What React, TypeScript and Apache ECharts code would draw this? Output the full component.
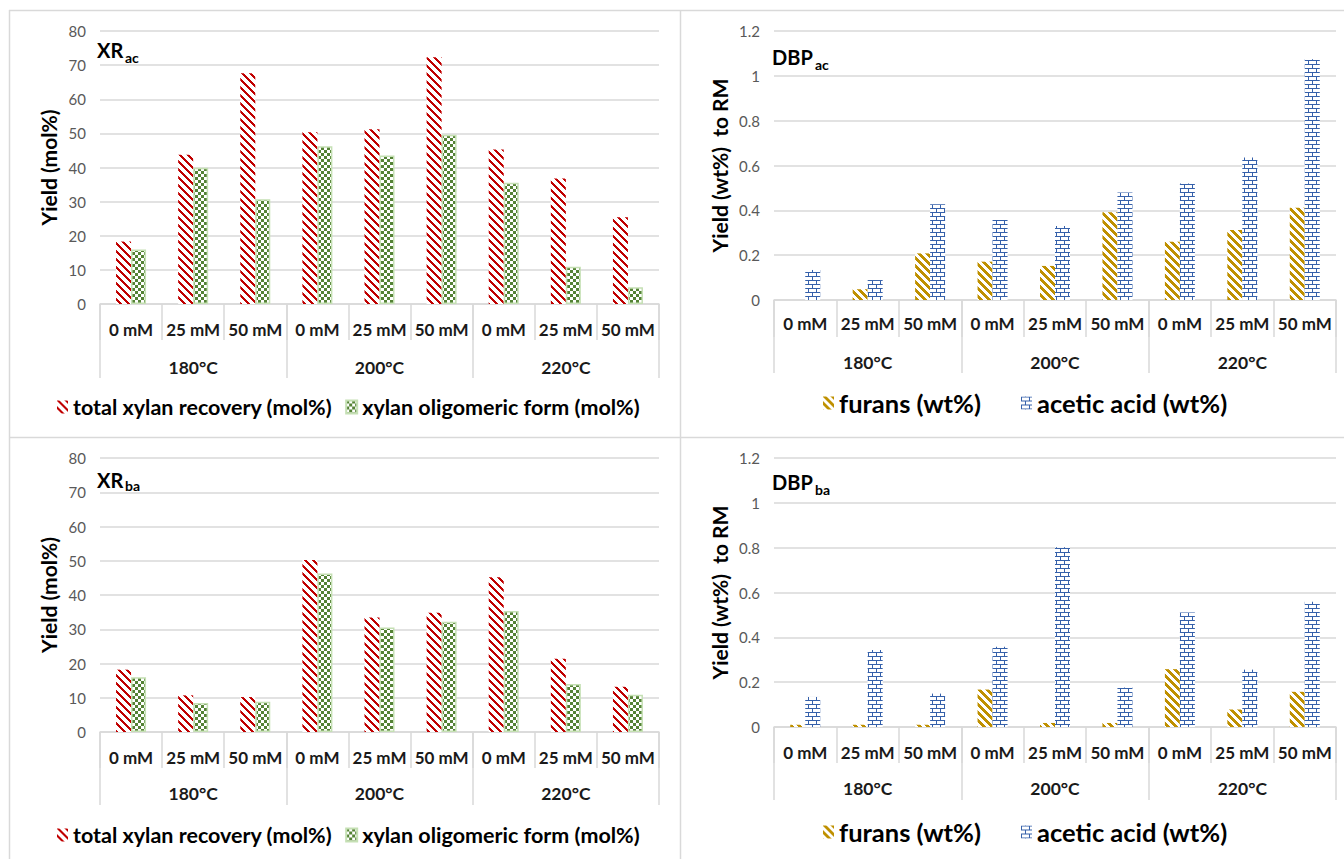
import React, { useEffect, useRef } from "react";
import * as echarts from "echarts";

// ---------- data ----------
const mmLabels = ["0 mM", "25 mM", "50 mM", "0 mM", "25 mM", "50 mM", "0 mM", "25 mM", "50 mM"];
const tempLabels = ["180°C", "200°C", "220°C"];

const xrAcTotal = [18.3, 43.7, 67.6, 50.3, 51.2, 72.3, 45.3, 36.8, 25.4];
const xrAcOligo = [16.0, 39.9, 30.7, 46.2, 43.5, 49.6, 35.5, 10.9, 4.9];
const xrBaTotal = [18.2, 10.7, 10.2, 50.2, 33.4, 34.8, 45.2, 21.4, 13.2];
const xrBaOligo = [16.0, 8.5, 8.8, 46.3, 30.5, 32.2, 35.3, 14.0, 10.9];

const dbpAcFurans = [0, 0.048, 0.208, 0.171, 0.152, 0.391, 0.26, 0.312, 0.412];
const dbpAcAcetic = [0.134, 0.089, 0.427, 0.357, 0.33, 0.48, 0.52, 0.636, 1.074];
const dbpBaFurans = [0.01, 0.01, 0.01, 0.167, 0.018, 0.018, 0.258, 0.078, 0.157];
const dbpBaAcetic = [0.134, 0.343, 0.149, 0.358, 0.802, 0.176, 0.511, 0.256, 0.559];

const nameTotal = "total xylan recovery (mol%)";
const nameOligo = "xylan oligomeric form (mol%)";
const nameFurans = "furans (wt%)";
const nameAcetic = "acetic acid (wt%)";

// ---------- styles ----------
const FONT = 'Lato, "Noto Sans", sans-serif';
const GRID_COLOR = "#d9d9d9";
const RED = "#c00000";
const GREEN = "#548235";
const GREEN_BORDER = "#c5e0b4";
const GOLD = "#bf9000";
const BLUE = "#3560aa";

function makeTile(size: number, fn: (ctx: CanvasRenderingContext2D) => void) {
  const c = document.createElement("canvas");
  c.width = size;
  c.height = size;
  const ctx = c.getContext("2d") as CanvasRenderingContext2D;
  ctx.fillStyle = "#ffffff";
  ctx.fillRect(0, 0, size, size);
  fn(ctx);
  return { image: c, repeat: "repeat", imageWidth: size, imageHeight: size } as any;
}

function diagTile(color: string, width: number) {
  return makeTile(8, (ctx) => {
    ctx.fillStyle = color;
    for (let y = 0; y < 8; y++) {
      for (let x = 0; x < 8; x++) {
        if ((((x - y) % 8) + 8) % 8 < width) ctx.fillRect(x, y, 1, 1);
      }
    }
  });
}

function checkerTile(color: string) {
  return makeTile(6, (ctx) => {
    ctx.fillStyle = color;
    for (let y = 0; y < 6; y++) {
      for (let x = 0; x < 6; x++) {
        if ((Math.floor(x / 3) + Math.floor(y / 3)) % 2 === 0) ctx.fillRect(x, y, 1, 1);
      }
    }
  });
}

function brickTile(color: string) {
  return makeTile(8, (ctx) => {
    ctx.fillStyle = color;
    ctx.fillRect(0, 0, 8, 1);
    ctx.fillRect(0, 4, 8, 1);
    ctx.fillRect(0, 0, 1, 4);
    ctx.fillRect(4, 4, 1, 4);
  });
}

function buildOption() {
  const redFill = diagTile(RED, 3);
  const goldFill = diagTile(GOLD, 4);
  const greenFill = checkerTile(GREEN);
  const blueFill = brickTile(BLUE);

  const panels = [
    {
      grid: { left: 100, top: 31, width: 559, height: 273 },
      max: 80, interval: 10, yName: "Yield (mol%)", nameGap: 41,
      tick: [36, 74], lab: [25, 63],
      series: [
        { name: nameTotal, data: xrAcTotal, fill: redFill, border: null },
        { name: nameOligo, data: xrAcOligo, fill: greenFill, border: GREEN_BORDER },
      ],
      legend: { left: 57, top: 396, gap: 13, size: 21.5 },
      title: { main: "XR", sub: "ac", x: 97, y: 50, sx: 125, sy: 57 },
    },
    {
      grid: { left: 774, top: 31, width: 562, height: 269 },
      max: 1.2, interval: 0.2, yName: "Yield (wt%)  to RM", nameGap: 44,
      tick: [37, 73], lab: [23, 62],
      series: [
        { name: nameFurans, data: dbpAcFurans, fill: goldFill, border: null },
        { name: nameAcetic, data: dbpAcAcetic, fill: blueFill, border: null },
      ],
      legend: { left: 823, top: 390, gap: 40, size: 25.5 },
      title: { main: "DBP", sub: "ac", x: 772, y: 57, sx: 815, sy: 64 },
    },
    {
      grid: { left: 100, top: 458, width: 559, height: 274 },
      max: 80, interval: 10, yName: "Yield (mol%)", nameGap: 41,
      tick: [36, 73], lab: [25, 61],
      series: [
        { name: nameTotal, data: xrBaTotal, fill: redFill, border: null },
        { name: nameOligo, data: xrBaOligo, fill: greenFill, border: GREEN_BORDER },
      ],
      legend: { left: 57, top: 824, gap: 13, size: 21.5 },
      title: { main: "XR", sub: "ba", x: 97, y: 480, sx: 125, sy: 485 },
    },
    {
      grid: { left: 774, top: 458, width: 562, height: 269 },
      max: 1.2, interval: 0.2, yName: "Yield (wt%)  to RM", nameGap: 44,
      tick: [36, 73], lab: [25, 61],
      series: [
        { name: nameFurans, data: dbpBaFurans, fill: goldFill, border: null },
        { name: nameAcetic, data: dbpBaAcetic, fill: blueFill, border: null },
      ],
      legend: { left: 823, top: 819, gap: 40, size: 25.5 },
      title: { main: "DBP", sub: "ba", x: 772, y: 482, sx: 815, sy: 489 },
    },
  ];

  const grid: any[] = [];
  const xAxis: any[] = [];
  const yAxis: any[] = [];
  const series: any[] = [];
  const legend: any[] = [];
  const graphic: any[] = [];

  const axisLineStyle = { color: GRID_COLOR, width: 1.5 };

  panels.forEach((p, k) => {
    grid.push({ ...p.grid, containLabel: false });
    xAxis.push({
      type: "category",
      gridIndex: k,
      position: "bottom",
      data: mmLabels,
      boundaryGap: true,
      axisLine: { show: true, lineStyle: axisLineStyle },
      axisTick: { show: true, length: p.tick[0], lineStyle: axisLineStyle },
      axisLabel: {
        margin: p.lab[0], verticalAlign: "middle", fontSize: 17, fontWeight: "bold",
        color: "#1a1a1a", fontFamily: FONT, interval: 0,
      },
    });
    xAxis.push({
      type: "category",
      gridIndex: k,
      position: "bottom",
      data: tempLabels,
      boundaryGap: true,
      axisLine: { show: false },
      axisTick: { show: true, length: p.tick[1], lineStyle: axisLineStyle },
      axisLabel: {
        margin: p.lab[1], verticalAlign: "middle", fontSize: 17.5, fontWeight: "bold",
        color: "#1a1a1a", fontFamily: FONT, interval: 0,
      },
    });
    yAxis.push({
      type: "value",
      gridIndex: k,
      min: 0,
      max: p.max,
      interval: p.interval,
      name: p.yName,
      nameLocation: "middle",
      nameRotate: 90,
      nameGap: p.nameGap,
      nameTextStyle: { fontSize: 21, fontWeight: "bold", color: "#000", fontFamily: FONT },
      axisLine: { show: false },
      axisTick: { show: false },
      axisLabel: { fontSize: 15, color: "#595959", margin: 14, fontFamily: FONT },
      splitLine: { show: true, lineStyle: axisLineStyle },
    });
    p.series.forEach((s) => {
      series.push({
        type: "bar",
        name: s.name,
        xAxisIndex: 2 * k,
        yAxisIndex: k,
        data: s.data,
        barWidth: 15,
        barGap: "0%",
        itemStyle: s.border
          ? { color: s.fill, borderColor: s.border, borderWidth: 1.5 }
          : { color: s.fill },
      });
    });
    legend.push({
      data: p.series.map((s) => s.name),
      left: p.legend.left,
      top: p.legend.top,
      padding: 0,
      orient: "horizontal",
      itemWidth: 11,
      itemHeight: 13,
      itemGap: p.legend.gap,
      icon: "rect",
      selectedMode: false,
      textStyle: { fontSize: p.legend.size, fontWeight: "bold", color: "#000", fontFamily: FONT },
    });
    graphic.push({
      type: "text",
      x: p.title.x,
      y: p.title.y,
      style: { text: p.title.main, fill: "#000", font: `bold 20px ${FONT}`, verticalAlign: "middle" },
    });
    graphic.push({
      type: "text",
      x: p.title.sx,
      y: p.title.sy,
      style: { text: p.title.sub, fill: "#000", font: `bold 14px ${FONT}`, verticalAlign: "middle" },
    });
  });

  const border = { stroke: GRID_COLOR, lineWidth: 1.5 };
  graphic.push(
    { type: "line", shape: { x1: 9, y1: 10.5, x2: 1344, y2: 10.5 }, style: border },
    { type: "line", shape: { x1: 9.5, y1: 10, x2: 9.5, y2: 859 }, style: border },
    { type: "line", shape: { x1: 680.5, y1: 10, x2: 680.5, y2: 859 }, style: border },
    { type: "line", shape: { x1: 9, y1: 437.5, x2: 1344, y2: 437.5 }, style: border }
  );

  return {
    animation: false,
    backgroundColor: "#ffffff",
    textStyle: { fontFamily: FONT },
    grid,
    xAxis,
    yAxis,
    series,
    legend,
    graphic,
  };
}

export default function App() {
  const ref = useRef<HTMLDivElement>(null);
  useEffect(() => {
    if (!ref.current) return;
    const chart = echarts.init(ref.current, null, { renderer: "svg" });
    chart.setOption(buildOption() as any);
    return () => chart.dispose();
  }, []);
  return (
    <div
      ref={ref}
      style={{ position: "fixed", left: 0, top: 0, width: 1344, height: 859, background: "#fff" }}
    />
  );
}
